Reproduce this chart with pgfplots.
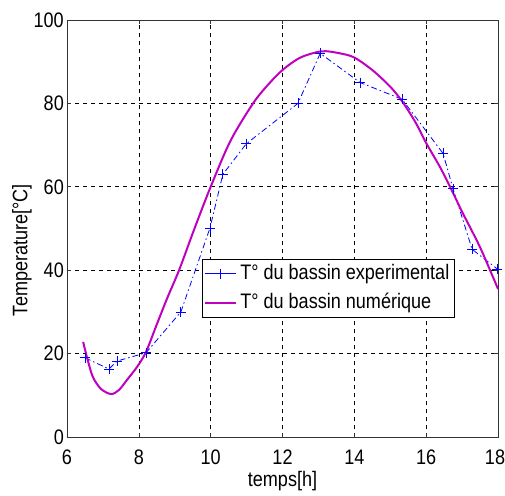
\documentclass[border=0pt]{standalone}
\usepackage{fontspec}
\setmainfont{Liberation Sans}[FakeStretch=0.86]
\usepackage{pgfplots}
\pgfplotsset{compat=1.18}
\definecolor{mag}{rgb}{0.75,0,0.75}
\begin{document}
\begin{tikzpicture}
\begin{axis}[
  scale only axis,
  width=431pt, height=417pt,
  xmin=6, xmax=18, ymin=0, ymax=100,
  xtick={6,8,...,18}, ytick={0,20,...,100},
  xticklabels={6,8,10,12,14,16,\hspace*{-6pt}18},
  tick align=inside,
  major tick length=4pt,
  grid=major,
  major grid style={black, line width=0.6pt, dash pattern=on 4pt off 4pt},
  axis line style={black!80, line width=0.8pt},
  tick style={black!80, line width=0.6pt},
  every tick label/.append style={font=\fontsize{21}{22}\selectfont, inner sep=0pt},
  xticklabel style={anchor=north, yshift=-13pt},
  yticklabel style={anchor=east, xshift=-3pt},
  /pgf/number format/assume math mode=true,
  xlabel={temps[h]},
  ylabel={Temperature[°C]},
  label style={font=\fontsize{21}{22}\selectfont, inner sep=0pt},
  xlabel style={at={(axis description cs:0.5,0)}, anchor=north, yshift=-34pt},
  ylabel style={at={(axis description cs:0,0.448)}, anchor=center, yshift=45pt},
  legend style={at={(0.313,0.427)}, anchor=north west, draw=black, line width=0.8pt,
    font=\fontsize{21}{22}\selectfont, inner sep=2pt, row sep=4pt,
    nodes={text height=15pt, text depth=4pt, inner sep=3pt},
    cells={anchor=west}},
  legend cell align=left,
  legend image code/.code={\draw[mark repeat=2,mark phase=2,#1,solid]
     plot coordinates {(0pt,0pt) (15.5pt,0pt) (31pt,0pt)};},
]
\addplot[blue, line width=0.8pt, dash pattern=on 6pt off 3pt on 1.5pt off 3pt, mark=+, mark size=5pt,
  mark options={solid, line width=0.8pt}] coordinates {
(6.5,19) (7.17,16.3) (7.39,18.2) (8.2,20.2) (9.17,30) (9.98,50.1) (10.34,63)
(10.99,70.3) (12.43,80) (13.05,92) (14.16,85) (15.33,81) (16.47,68) (16.75,59.5)
(17.28,45) (17.98,40.3)
};
\addlegendentry{T° du bassin experimental}
\addplot[mag, line width=2pt, smooth, tension=0.5] coordinates {
(6.45,22.8) (6.56,19) (6.72,14.4) (6.95,11.5) (7.23,10.3) (7.45,11.3) (7.67,13.7)
(7.95,16.8) (8.2,20.4) (8.5,27) (8.8,33.5) (9.12,40) (9.55,50) (10.0,60)
(10.55,71) (11.18,80) (11.6,84.5) (12.0,88) (12.5,91) (13.1,92.5) (13.6,92)
(14.0,91) (14.5,88) (15.0,84) (15.33,80.5) (15.7,75.5) (16.0,70.5) (16.4,64.5)
(16.75,58.5) (17.0,54) (17.5,45.5) (18.0,35.5)
};
\addlegendentry{T° du bassin numérique}
\end{axis}
\pgfresetboundingbox
\useasboundingbox (current axis.south west) ++(-67pt,-58pt) rectangle ++(505pt,495pt);
\end{tikzpicture}
\end{document}
